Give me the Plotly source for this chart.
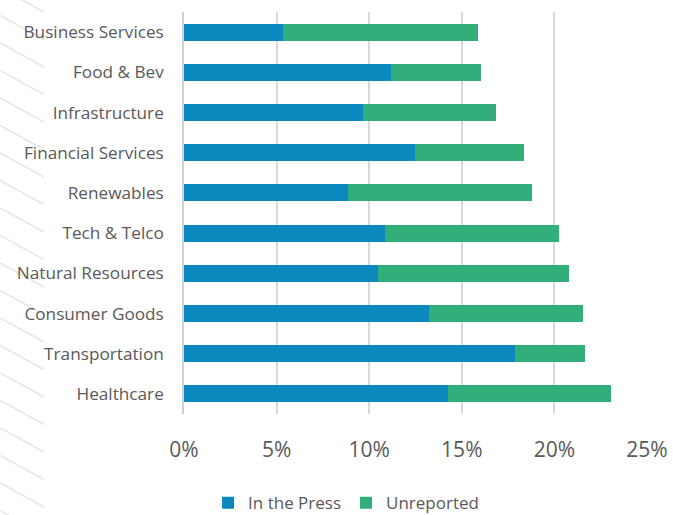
import plotly.graph_objects as go

categories = ["Business Services", "Food & Bev", "Infrastructure", "Financial Services",
              "Renewables", "Tech & Telco", "Natural Resources", "Consumer Goods",
              "Transportation", "Healthcare"]
in_the_press = [0.0536, 0.1116, 0.0965, 0.1247, 0.0886, 0.1083, 0.1046, 0.1323, 0.1785, 0.1425]
unreported = [0.1051, 0.0489, 0.0720, 0.0589, 0.0991, 0.0944, 0.1031, 0.0833, 0.0382, 0.0881]
x_ticks = [0, 0.05, 0.10, 0.15, 0.20, 0.25]
x_tick_labels = ["0%", "5%", "10%", "15%", "20%", "25%"]

BLUE = "#0B88BE"
GREEN = "#31AE79"
GREY_TEXT = "#595959"

fig = go.Figure()
fig.add_trace(go.Bar(y=categories, x=in_the_press, name="In the Press", orientation="h",
                     marker=dict(color=BLUE, line=dict(width=0))))
fig.add_trace(go.Bar(y=categories, x=unreported, name="Unreported", orientation="h",
                     marker=dict(color=GREEN, line=dict(width=0))))

# decorative faint diagonal lines on the left edge (background ornament)
L, T, W, H = 184, 12, 463, 402
def px_to_paper(px, py):
    return (px - L) / W, (T + H - py) / H

shapes = []
y0 = -12
while y0 < 520:
    xa, ya = px_to_paper(0, y0)
    xb, yb = px_to_paper(44, y0 + 24)
    shapes.append(dict(type="line", xref="paper", yref="paper", x0=xa, y0=ya, x1=xb, y1=yb,
                       line=dict(color="#e6e6e6", width=1.5), layer="below"))
    y0 += 27.5

fig.update_layout(
    barmode="stack",
    bargap=0.58,
    width=673, height=515,
    margin=dict(l=L, r=673 - L - W, t=T, b=515 - T - H, autoexpand=False),
    paper_bgcolor="white", plot_bgcolor="white",
    font=dict(family="Open Sans", color=GREY_TEXT),
    shapes=shapes,
    showlegend=True,
    legend=dict(orientation="h", x=0.35, xref="paper", y=-0.222, yanchor="middle", xanchor="center",
                font=dict(size=17, color=GREY_TEXT), traceorder="normal",
                itemwidth=30, itemsizing="constant", tracegroupgap=0),
    xaxis=dict(range=[0, 0.25], tickvals=x_ticks, ticktext=x_tick_labels,
               showgrid=True, gridcolor="#d9d9d9", gridwidth=1.5,
               zeroline=False, showline=False,
               ticks="outside", ticklen=17, tickcolor="rgba(0,0,0,0)",
               tickfont=dict(size=21, color=GREY_TEXT)),
    yaxis=dict(categoryorder="array", categoryarray=categories[::-1],
               showline=True, linecolor="#d0d0d0", linewidth=1.5,
               showgrid=False, zeroline=False,
               ticks="outside", ticklen=15, tickcolor="rgba(0,0,0,0)",
               tickfont=dict(size=17.2, color=GREY_TEXT)),
)

fig.write_html("out.html")
